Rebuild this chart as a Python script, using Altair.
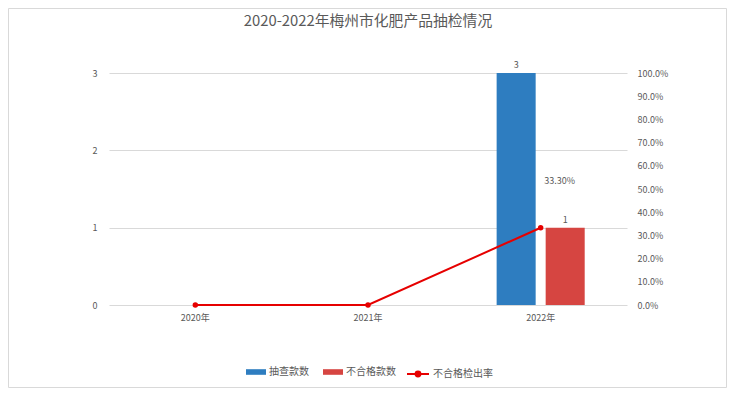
import altair as alt
import pandas as pd

years = ["2020年", "2021年", "2022年"]
checked = [0, 0, 3]        # 抽查款数
failed = [0, 0, 1]         # 不合格款数
fail_rate = [0.0, 0.0, 0.333]  # 不合格检出率
series_names = ["抽查款数", "不合格款数"]
rate_name = "不合格检出率"
left_ticks = [0, 1, 2, 3]
right_ticks = [0, 0.1, 0.2, 0.3, 0.4, 0.5, 0.6, 0.7, 0.8, 0.9, 1.0]

FONT = "Noto Sans CJK SC"
TXT = "#595959"
BLUE = "#2E7DC0"
RED_BAR = "#D64541"
RED_LINE = "#E60000"

bar_rows = []
for i, y in enumerate(years):
    bar_rows.append({"year": y, "series": series_names[0], "count": checked[i]})
    bar_rows.append({"year": y, "series": series_names[1], "count": failed[i]})
bar_df = pd.DataFrame(bar_rows)
bar_lbl_df = bar_df[bar_df["count"] > 0]

line_df = pd.DataFrame({"year": years, "rate": fail_rate, "name": [rate_name] * 3})
line_lbl_df = line_df[line_df["rate"] > 0]

xscale = alt.Scale(domain=years, paddingInner=0.49, paddingOuter=0.245)
offscale = alt.Scale(domain=series_names, paddingInner=0.204, paddingOuter=0)
XAXIS = dict(title=None, orient="bottom", labelAngle=0, domain=False, ticks=False,
             labelPadding=8, labelFont=FONT, labelFontSize=9, labelColor=TXT, grid=False)


def xenc():
    # identical axis definition on every layer so the shared x axis merges cleanly
    return alt.X("year:N", scale=xscale, axis=alt.Axis(**XAXIS), sort=years)


def yl(field, axis=None):
    return alt.Y(field, scale=alt.Scale(domain=[0, 3], nice=False), axis=axis)


def yr(field, axis=None):
    return alt.Y(field, scale=alt.Scale(domain=[0, 1], nice=False), axis=axis)


bars = alt.Chart(bar_df).mark_bar().encode(
    x=xenc(),
    xOffset=alt.XOffset("series:N", scale=offscale, sort=series_names),
    y=yl("count:Q", alt.Axis(title=None, values=left_ticks, grid=True, gridColor="#D9D9D9",
                             domain=False, ticks=False, labelPadding=12, labelFont=FONT,
                             labelFontSize=9, labelColor=TXT, orient="left")),
    color=alt.Color("series:N", sort=series_names,
                    scale=alt.Scale(domain=series_names, range=[BLUE, RED_BAR]),
                    legend=alt.Legend(title=None, orient="none", legendX=137, legendY=289,
                                      direction="horizontal", symbolType="M-1,-0.28H1V0.28H-1Z",
                                      symbolSize=400, symbolStrokeWidth=0, labelFont=FONT,
                                      labelFontSize=10, labelColor=TXT, labelOffset=3,
                                      columnPadding=14)),
)
bar_text = alt.Chart(bar_lbl_df).mark_text(baseline="bottom", dy=-3, font=FONT, fontSize=9,
                                           color=TXT).encode(
    x=xenc(),
    xOffset=alt.XOffset("series:N", scale=offscale, sort=series_names),
    y=yl("count:Q"),
    text=alt.Text("count:Q"),
)

line = alt.Chart(line_df).mark_line(strokeWidth=2).encode(
    x=xenc(),
    y=yr("rate:Q", alt.Axis(title=None, orient="right", values=right_ticks, format=".1%",
                            grid=False, domain=False, ticks=False, labelPadding=10,
                            labelFont=FONT, labelFontSize=9, labelColor=TXT)),
    stroke=alt.Stroke("name:N", scale=alt.Scale(domain=[rate_name], range=[RED_LINE]),
                      legend=alt.Legend(title=None, orient="none", legendX=297, legendY=289,
                                        symbolType="M-1,0H1M-0.22,0A0.22,0.22,0,1,1,0.22,0A0.22,0.22,0,1,1,-0.22,0",
                                        symbolSize=484, symbolStrokeWidth=2,
                                        symbolFillColor=RED_LINE, labelFont=FONT,
                                        labelFontSize=10, labelColor=TXT, labelOffset=3)),
)
points = alt.Chart(line_df).mark_circle(size=30, opacity=1, color=RED_LINE).encode(
    x=xenc(),
    y=yr("rate:Q"),
)
line_text = alt.Chart(line_lbl_df).mark_text(dx=19, dy=-47, font=FONT, fontSize=9,
                                             color=TXT).encode(
    x=xenc(),
    y=yr("rate:Q"),
    text=alt.Text("rate:Q", format=".2%"),
)

frame = alt.Chart(pd.DataFrame({"a": [0]})).mark_rect(
    fill="transparent", stroke="#D9D9D9", strokeWidth=1
).encode(x=alt.value(-100.5), x2=alt.value(617.5), y=alt.value(-64.5), y2=alt.value(314.5))

chart = alt.layer(bars, bar_text, line, points, line_text, frame).resolve_scale(
    y="independent"
).properties(
    width=518, height=232,
    background="white",
    title=alt.Title("2020-2022年梅州市化肥产品抽检情况", font=FONT, fontSize=14.8,
                    fontWeight="normal", color=TXT, anchor="middle", frame="group",
                    offset=-21),
    autosize=alt.AutoSizeParams(type="none"),
    padding={"left": 101, "top": 65, "right": 101, "bottom": 84},
).configure_view(stroke=None)

chart.save("out.html", embed_options={"renderer": "svg", "actions": False})
